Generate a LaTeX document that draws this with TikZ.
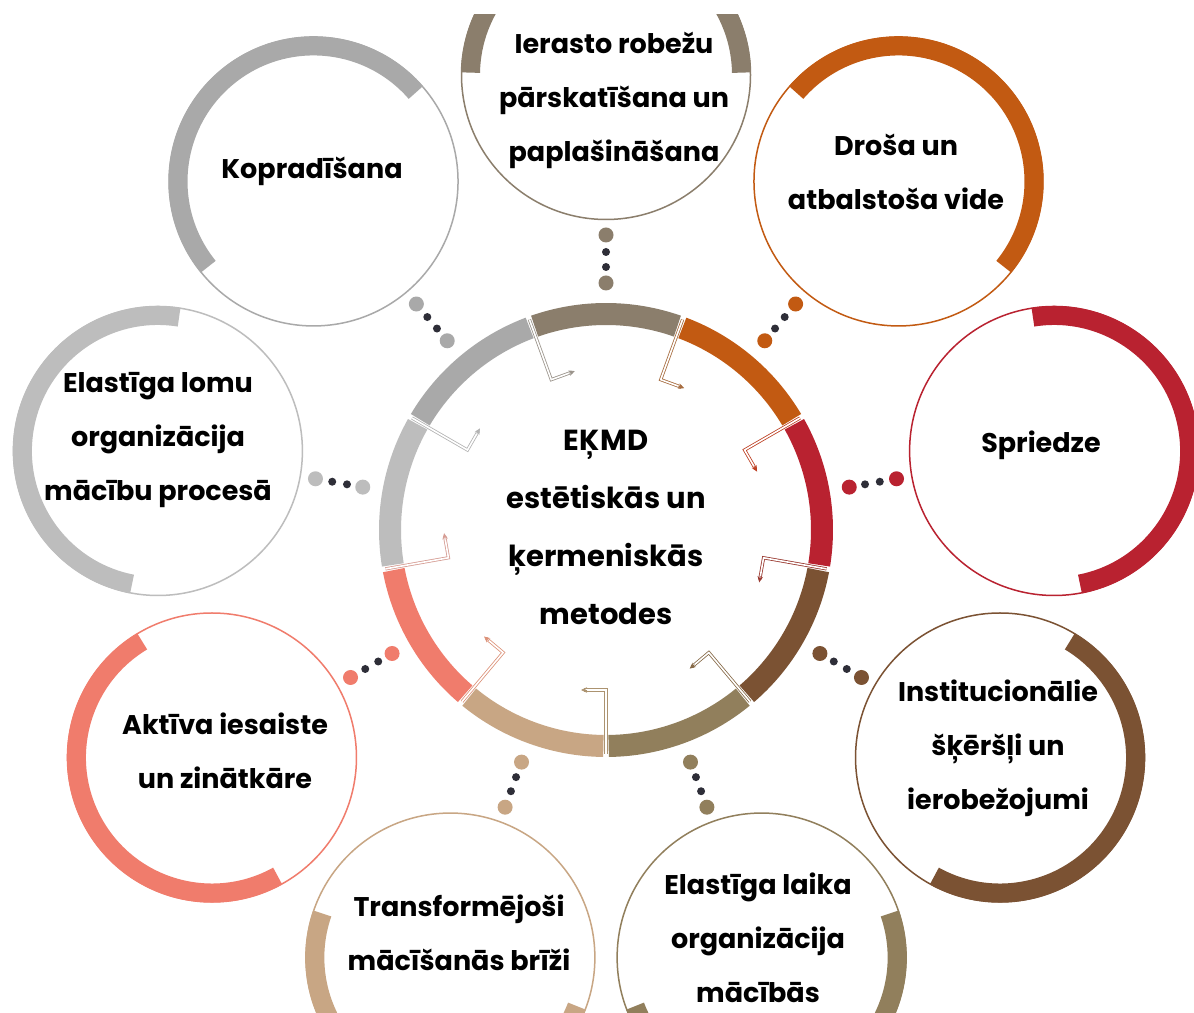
\documentclass[tikz,border=0pt]{standalone}
\usepackage{fontspec}
\setmainfont{Poppins}
\usetikzlibrary{arrows.meta,calc}
\definecolor{cA}{HTML}{8B7E6C}
\definecolor{cB}{HTML}{C25A12}
\definecolor{cC}{HTML}{B92230}
\definecolor{cD}{HTML}{7B5233}
\definecolor{cE}{HTML}{917F5C}
\definecolor{cF}{HTML}{C8A684}
\definecolor{cG}{HTML}{F07C6C}
\definecolor{cH}{HTML}{BDBDBD}
\definecolor{cI}{HTML}{A9A9A9}
\definecolor{dotdark}{HTML}{2E2E38}
\begin{document}
\begin{tikzpicture}[x=1pt,y=1pt,
  lbl/.style={font=\bfseries\fontsize{27}{54}\selectfont, align=center, text=black, inner sep=0pt},
  clbl/.style={font=\bfseries\fontsize{29}{58}\selectfont, align=center, text=black, inner sep=0pt},
  seg/.style={line width=22},
  band/.style={line width=19},
  rim/.style={line width=1.5},
  flow/.style={line width=0.8, double=white, double distance=1.6, shorten >=3},
  tip/.style={line width=0.8, -{Stealth[length=6,width=5.5]}},
]
\useasboundingbox (0,0) rectangle (1194,1012);
\fill[white] (0,0) rectangle (1194,1012);
\coordinate (C) at (606,482);
\begin{scope}
\clip (0,0) rectangle (1194,997);
\foreach \a/\c/\n in {90/cA/top, 50/cB/ne, 10/cC/e, -30/cD/se, -70/cE/sse, -110/cF/ssw, -150/cG/sw, 170/cH/w, 130/cI/nw}{
  \pgfmathsetmacro\sa{\a-89}
  \pgfmathsetmacro\ea{\a+89}
  \pgfmathsetmacro\ss{\a-19.3}
  \pgfmathsetmacro\es{\a+19.3}
  \coordinate (O\n) at ($(C)+(\a:455)$);
  \draw[rim, \c] (O\n) circle[radius=144.5];
  \draw[band, \c] ($(O\n)+(\sa:135.5)$) arc[start angle=\sa, end angle=\ea, radius=135.5];
  \draw[seg, \c] ($(C)+(\ss:216)$) arc[start angle=\ss, end angle=\es, radius=216];
  \fill[\c] ($(C)+(\a:295)$) circle[radius=7.5];
  \fill[dotdark] ($(C)+(\a:278)$) circle[radius=4];
  \fill[dotdark] ($(C)+(\a:263)$) circle[radius=4];
  \fill[\c] ($(C)+(\a:247)$) circle[radius=7.5];
}
\foreach \b/\p/\q in {110/cI/cA, 70/cA/cB, 30/cB/cC, -10/cC/cD, -50/cD/cE, -90/cE/cF, -130/cF/cG, -170/cG/cH, 150/cH/cI}{
  \pgfmathsetmacro\bt{\b-90}
  \coordinate (s) at ($(C)+(\b:224)$);
  \coordinate (k) at ($(C)+(\b:160)$);
  \coordinate (e) at ($(k)+(\bt:25)$);
  \draw[flow, \p!50!\q] (s) -- (k) -- (e);
  \draw[tip, \p!50!\q] ($(k)!0.75!(e)$) -- (e);
}
\end{scope}
\node[lbl] (tTop) at (614,912) {Ierasto robežu\\pārskatīšana un\\paplašināšana};
\node[lbl] (tNW) at (312,841) {Kopradīšana};
\node[lbl] (tNE) at (896,840.5) {Droša un\\atbalstoša vide};
\node[lbl] (tE) at (1041,567) {Spriedze};
\node[lbl] (tSE) at (998,264) {Institucionālie\\šķēršļi un\\ierobežojumi};
\node[lbl] (tSSE) at (758,74) {Elastīga laika\\organizācija\\mācībās};
\node[lbl] (tSSW) at (459,79) {Transformējoši\\mācīšanās brīži};
\node[lbl] (tSW) at (225,261.5) {Aktīva iesaiste\\un zinātkāre};
\node[lbl] (tW) at (158,572) {Elastīga lomu\\organizācija\\mācību procesā};
\node[clbl] (tC) at (606,485) {EĶMD\\estētiskās un\\ķermeniskās\\metodes};
\end{tikzpicture}
\end{document}
